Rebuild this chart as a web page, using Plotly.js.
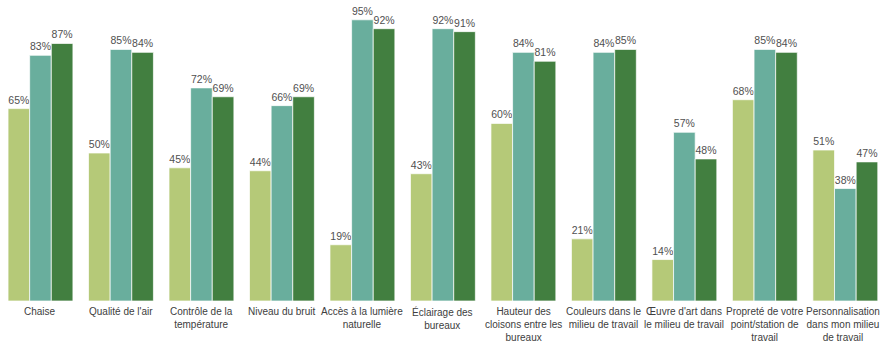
<!DOCTYPE html>
<html>
<head>
<meta charset="utf-8">
<script src="https://cdn.plot.ly/plotly-3.0.1.min.js"></script>
<style>html,body{margin:0;padding:0;overflow:hidden;background:#fff;}</style>
</head>
<body>
<div id="chart" style="width:881px;height:345px;"></div>
<script>
const categories = [
  "Chaise",
  "Qualité de l'air",
  "Contrôle de la<br>température",
  "Niveau du bruit",
  "Accès à la lumière<br>naturelle",
  "Éclairage des<br>bureaux",
  "Hauteur des<br>cloisons entre les<br>bureaux",
  "Couleurs dans le<br>milieu de travail",
  "Œuvre d'art dans<br>le milieu de travail",
  "Propreté de votre<br>point/station de<br>travail",
  "Personnalisation<br>dans mon milieu<br>de travail"
];
const series1 = [65, 50, 45, 44, 19, 43, 60, 21, 14, 68, 51];
const series2 = [83, 85, 72, 66, 95, 92, 84, 84, 57, 85, 38];
const series3 = [87, 84, 69, 69, 92, 91, 81, 85, 48, 84, 47];
const seriesNames = ["Série 1", "Série 2", "Série 3"];
const colors = ["#b5c978", "#69ae9d", "#427f40"];

const xIdx = categories.map((_, i) => i);
const allSeries = [series1, series2, series3];
const traces = allSeries.map((vals, k) => ({
  type: "bar",
  name: seriesNames[k],
  x: xIdx,
  y: vals,
  text: vals.map(v => v + "%"),
  textposition: "outside",
  cliponaxis: false,
  textfont: {family: "Liberation Sans, Arial, sans-serif", size: 10.5, color: "#505050"},
  marker: {color: colors[k], line: {color: "rgba(255,255,255,0.7)", width: 1}},
  hoverinfo: "none"
}));

const labelFont = {family: "Liberation Sans, Arial, sans-serif", size: 10, color: "#404040"};
const annotations = categories.map((c, i) => ({
  x: i,
  xref: "x",
  y: 0,
  yref: "paper",
  yanchor: "top",
  xanchor: "center",
  yshift: -3,
  xshift: i === categories.length - 1 ? -2 : 0,
  text: c,
  showarrow: false,
  align: "center",
  font: labelFont
}));

const layout = {
  width: 881,
  height: 345,
  margin: {l: 0, r: 0, t: 5, b: 44},
  paper_bgcolor: "#ffffff",
  plot_bgcolor: "#ffffff",
  showlegend: false,
  barmode: "group",
  bargap: 0.194,
  bargroupgap: 0,
  xaxis: {
    type: "linear",
    range: [-0.503, 10.443],
    showticklabels: false,
    showgrid: false,
    zeroline: false,
    showline: false,
    ticks: ""
  },
  yaxis: {
    range: [0, 100],
    visible: false,
    showgrid: false,
    zeroline: false
  },
  annotations: annotations
};

Plotly.newPlot("chart", traces, layout, {displayModeBar: false, staticPlot: true});
</script>
</body>
</html>
